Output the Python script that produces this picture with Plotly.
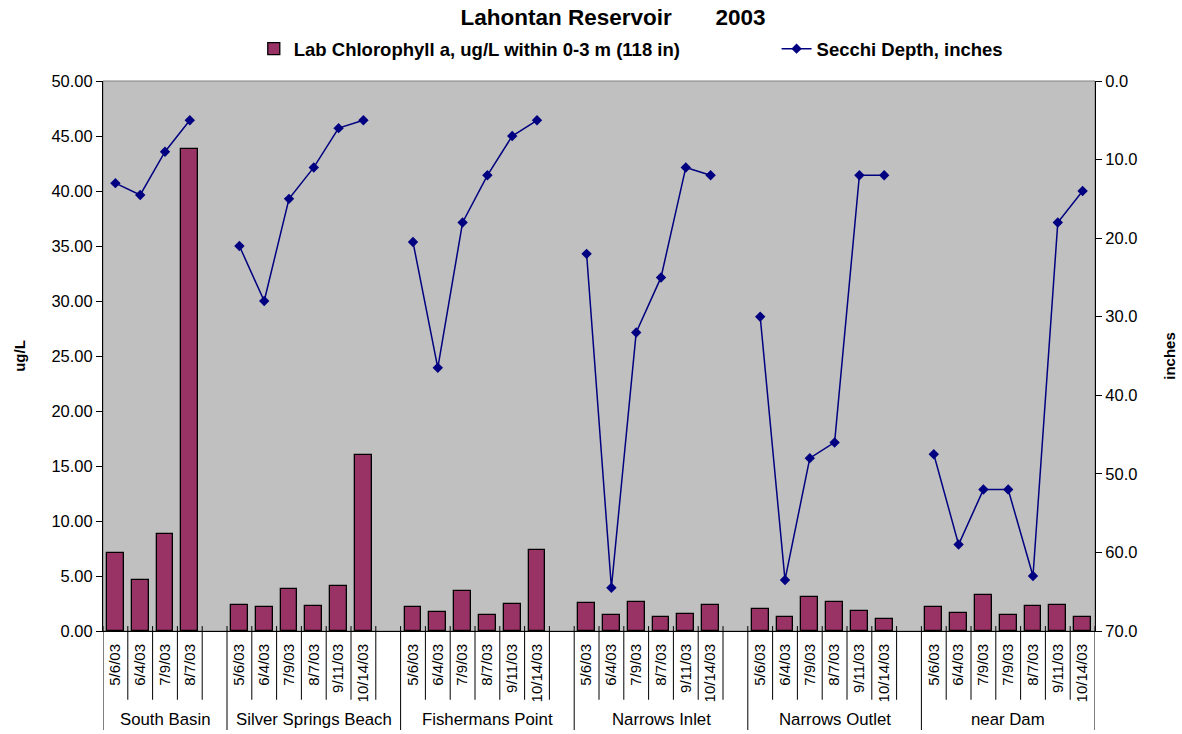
import plotly.graph_objects as go

sites = ["South Basin", "Silver Springs Beach", "Fishermans Point",
         "Narrows Inlet", "Narrows Outlet", "near Dam"]

dates_south_basin = ["5/6/03", "6/4/03", "7/9/03", "8/7/03"]
dates_silver = ["5/6/03", "6/4/03", "7/9/03", "8/7/03", "9/11/03", "10/14/03"]
dates_fishermans = ["5/6/03", "6/4/03", "7/9/03", "8/7/03", "9/11/03", "10/14/03"]
dates_inlet = ["5/6/03", "6/4/03", "7/9/03", "8/7/03", "9/11/03", "10/14/03"]
dates_outlet = ["5/6/03", "6/4/03", "7/9/03", "8/7/03", "9/11/03", "10/14/03"]
dates_dam = ["5/6/03", "6/4/03", "7/9/03", "7/9/03", "8/7/03", "9/11/03", "10/14/03"]

chl_south_basin = [7.06, 4.67, 8.85, 43.8]
chl_silver = [2.36, 2.15, 3.79, 2.27, 4.06, 16.0]
chl_fishermans = [2.15, 1.76, 3.64, 1.42, 2.45, 7.36]
chl_inlet = [2.52, 1.45, 2.67, 1.27, 1.52, 2.36]
chl_outlet = [2.0, 1.24, 3.1, 2.67, 1.85, 1.06]
chl_dam = [2.18, 1.61, 3.3, 1.48, 2.27, 2.36, 1.3]

secchi_south_basin = [13.0, 14.5, 9.0, 5.0]
secchi_silver = [21.0, 28.0, 15.0, 11.0, 6.0, 5.0]
secchi_fishermans = [20.5, 36.5, 18.0, 12.0, 7.0, 5.0]
secchi_inlet = [22.0, 64.5, 32.0, 25.0, 11.0, 12.0]
secchi_outlet = [30.0, 63.5, 48.0, 46.0, 12.0, 12.0]
secchi_dam = [47.5, 59.0, 52.0, 52.0, 63.0, 18.0, 14.0]

site_dates = [dates_south_basin, dates_silver, dates_fishermans,
              dates_inlet, dates_outlet, dates_dam]
site_chl = [chl_south_basin, chl_silver, chl_fishermans,
            chl_inlet, chl_outlet, chl_dam]
site_secchi = [secchi_south_basin, secchi_silver, secchi_fishermans,
               secchi_inlet, secchi_outlet, secchi_dam]

# flatten; the worksheet leaves one empty category after each site except the last
labels, chl, secchi, group_bounds = [], [], [], [0]
for i, site in enumerate(sites):
    labels += site_dates[i]
    chl += site_chl[i]
    secchi += site_secchi[i]
    if i < len(sites) - 1:
        labels.append("")
        chl.append(None)
        secchi.append(None)
    group_bounds.append(len(labels))
xs = list(range(len(labels)))

FONT = "Liberation Sans, Arial, sans-serif"

fig = go.Figure()

fig.add_trace(go.Bar(
    x=xs, y=chl,
    name="Lab Chlorophyll a, ug/L within 0-3 m (118 in)",
    marker=dict(color="#993366", line=dict(color="black", width=1.3)),
    width=0.68,
    legend="legend",
))

fig.add_trace(go.Scatter(
    x=xs, y=secchi,
    name="Secchi Depth, inches",
    mode="lines+markers",
    line=dict(color="#000080", width=1.5),
    marker=dict(symbol="diamond", size=8, color="#000080"),
    yaxis="y2",
    connectgaps=False,
    legend="legend2",
))

shapes = []
# category separators under the axis
for b in range(len(labels) + 1):
    is_group = b in group_bounds
    shapes.append(dict(
        type="line", xref="x", yref="paper",
        x0=b - 0.5, x1=b - 0.5, y0=0.009, y1=-0.18 if is_group else -0.125,
        line=dict(color="black", width=1),
    ))
# plot area frame
shapes.append(dict(type="rect", xref="paper", yref="paper", x0=0, x1=1, y0=0, y1=1,
                   line=dict(color="#808080", width=1), layer="below"))

annotations = []
for i, site in enumerate(sites):
    center = (group_bounds[i] + group_bounds[i + 1] - 1) / 2
    annotations.append(dict(
        x=center, y=-0.16, xref="x", yref="paper", text=site, showarrow=False,
        font=dict(family=FONT, size=16.8, color="black"), yanchor="middle",
    ))

tick_idx = [i for i, t in enumerate(labels) if t]

legend_font = dict(family=FONT, size=18.5, color="black", weight="bold")

fig.update_layout(
    width=1182, height=734,
    margin=dict(l=103, r=87, t=81, b=103, autoexpand=False),
    paper_bgcolor="white",
    plot_bgcolor="#C0C0C0",
    font=dict(family=FONT, color="black"),
    showlegend=True,
    title=dict(
        text="<b>Lahontan Reservoir\u00a0\u00a0\u00a0\u00a0\u00a0\u00a0 2003</b>",
        x=0.5186, xanchor="center", y=0.977, yanchor="middle",
        font=dict(family=FONT, size=22.5, color="black"),
    ),
    legend=dict(
        orientation="h", x=0.152, xanchor="left", y=1.058, yanchor="middle",
        font=legend_font, bgcolor="rgba(0,0,0,0)", visible=True,
    ),
    legend2=dict(
        orientation="h", x=0.679, xanchor="left", y=1.058, yanchor="middle",
        font=legend_font, bgcolor="rgba(0,0,0,0)", visible=True,
    ),
    xaxis=dict(
        range=[-0.5, len(labels) - 0.5],
        tickmode="array", tickvals=tick_idx, ticktext=[labels[i] for i in tick_idx],
        tickangle=-90, tickfont=dict(family=FONT, size=15),
        ticks="outside", ticklen=6, tickcolor="rgba(0,0,0,0)",
        showline=True, linecolor="black", linewidth=1,
        showgrid=False, zeroline=False,
    ),
    yaxis=dict(
        range=[0, 50], dtick=5, tickformat=".2f",
        tickfont=dict(family=FONT, size=16.5),
        ticks="outside", ticklen=6, tickcolor="black",
        showline=True, linecolor="black", linewidth=1,
        showgrid=False, zeroline=False,
        title=dict(text="<b>ug/L</b>", font=dict(family=FONT, size=15), standoff=22),
    ),
    yaxis2=dict(
        range=[70, 0], dtick=10, tickformat=".1f", overlaying="y", side="right",
        tickfont=dict(family=FONT, size=16.5),
        ticks="outside", ticklen=6, tickcolor="black",
        showline=True, linecolor="black", linewidth=1,
        showgrid=False, zeroline=False,
        title=dict(text="<b>inches</b>", font=dict(family=FONT, size=15), standoff=28),
    ),
    shapes=shapes,
    annotations=annotations,
    bargap=0,
)

# drop the browser's default 8px body margin so the figure sits at the window origin
fig.write_html("out.html", config={"displayModeBar": False},
               post_script="document.body.style.margin='0';")
